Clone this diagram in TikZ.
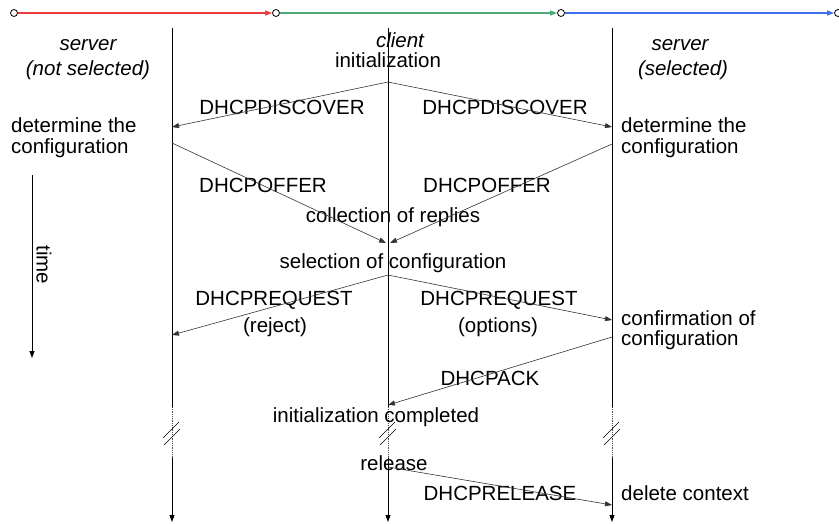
\documentclass[tikz,border=0pt]{standalone}
\usepackage{fontspec}
\setmainfont{Liberation Sans}
\usetikzlibrary{arrows.meta}
\definecolor{barred}{HTML}{F03C3C}
\definecolor{bargreen}{HTML}{4DAA78}
\definecolor{barblue}{HTML}{4070F0}
\tikzset{
	tip/.style={-{Triangle[length=7pt,width=5pt]}},
	txt/.style={font=\fontsize{20.5}{23}\selectfont, inner sep=0pt},
	role/.style={font=\fontsize{20.5}{23}\selectfont\itshape, inner sep=0pt},
	lifeline/.style={line width=0.8pt, black},
	msg/.style={tip, line width=0.6pt, black!80},
	dot/.style={circle, draw, fill=white, minimum size=7pt, inner sep=0pt, line width=0.8pt},
}

\begin{document}
\begin{tikzpicture}[x=1pt, y=-1pt]
			%%%%% START %%%%%
			\useasboundingbox (0, 0) rectangle (839, 523);
			
			% phases
			\node[dot] (p0) at (14, 13) {};
			\node[dot] (p1) at (276, 13) {};
			\node[dot] (p2) at (561, 13) {};
			\node[dot] (p3) at (838, 13) {};
			\draw[tip, barred, line width=1.3pt] (p0) -- (p1);
			\draw[tip, bargreen, line width=1.3pt] (p1) -- (p2);
			\draw[tip, barblue, line width=1.3pt] (p2) -- (p3);
			
			% lifelines
			\foreach \x/\n in {172/srvA, 388/cli, 612/srvB} {
				\coordinate (\n top) at (\x, 28);
				\coordinate (\n cut) at (\x, 407);
				\coordinate (\n join) at (\x, 458);
				\coordinate (\n end) at (\x, 522);
				\draw[lifeline] (\n top) -- (\n cut);
				\draw[lifeline, densely dotted, black!70] (\n cut) -- (\n join);
				\draw[lifeline, tip] (\n join) -- (\n end);
				\draw[line width=0.5pt] (\x-9, 438) -- (\x+7, 422);
				\draw[line width=0.5pt] (\x-8, 445) -- (\x+8, 429);
			}
			
			% time
			\coordinate (t0) at (32, 175);
			\coordinate (t1) at (32, 358);
			\draw[lifeline, tip] (t0) -- (t1);
			\node[txt, rotate=-90] (time) at (44, 265) {time};
			
			% roles
			\node[role] (srvAname) at (88, 45) {server};
			\node[role] (srvAsel) at (88, 70) {(not selected)};
			\node[role] (cliname) at (400, 40) {client};
			\node[txt] (init) at (388, 60) {initialization};
			\node[role] (srvBname) at (680, 45) {server};
			\node[role] (srvBsel) at (683, 70) {(selected)};
			
			% server states
			\node[txt, anchor=west] (detA1) at (11, 125) {determine the};
			\node[txt, anchor=west] (detA2) at (11, 148) {configuration};
			\node[txt, anchor=west] (detB1) at (621, 125) {determine the};
			\node[txt, anchor=west] (detB2) at (621, 148) {configuration};
			\node[txt, anchor=west] (conf1) at (621, 318) {confirmation of};
			\node[txt, anchor=west] (conf2) at (621, 340) {configuration};
			\node[txt, anchor=west] (delctx) at (621, 493) {delete context};
			
			% client states
			\node[txt] (collect) at (393, 217) {collection of replies};
			\node[txt] (select) at (393, 263) {selection of configuration};
			\node[txt] (done) at (376, 417) {initialization completed};
			\node[txt] (release) at (394, 463) {release};
			
			% message labels
			\node[txt] (discA) at (282, 107) {DHCPDISCOVER};
			\node[txt] (discB) at (505, 107) {DHCPDISCOVER};
			\node[txt] (offA) at (263, 185) {DHCPOFFER};
			\node[txt] (offB) at (487, 185) {DHCPOFFER};
			\node[txt] (reqA) at (274, 300) {DHCPREQUEST};
			\node[txt] (rejA) at (275, 327) {(reject)};
			\node[txt] (reqB) at (499, 300) {DHCPREQUEST};
			\node[txt] (optB) at (498, 327) {(options)};
			\node[txt] (ack) at (490, 378) {DHCPACK};
			\node[txt] (rel) at (500, 493) {DHCPRELEASE};
			
			% message ends
			\coordinate (cli disc) at (388, 82);
			\coordinate (cli offA) at (386, 243);
			\coordinate (cli offB) at (390, 243);
			\coordinate (cli req) at (388, 275);
			\coordinate (cli ack) at (388, 405);
			\coordinate (cli rel) at (388, 467);
			\coordinate (srvA disc) at (172, 127);
			\coordinate (srvA off) at (172, 143);
			\coordinate (srvA req) at (172, 335);
			\coordinate (srvB disc) at (612, 127);
			\coordinate (srvB off) at (612, 144);
			\coordinate (srvB req) at (612, 320);
			\coordinate (srvB ack) at (612, 337);
			\coordinate (srvB rel) at (612, 505);
			
			% messages
			\draw[msg] (cli disc) -- (srvA disc);
			\draw[msg] (cli disc) -- (srvB disc);
			\draw[msg] (srvA off) -- (cli offA);
			\draw[msg] (srvB off) -- (cli offB);
			\draw[msg] (cli req) -- (srvA req);
			\draw[msg] (cli req) -- (srvB req);
			\draw[msg] (srvB ack) -- (cli ack);
			\draw[msg] (cli rel) -- (srvB rel);
			
			%%%%% END %%%%%
\end{tikzpicture}
\end{document}
